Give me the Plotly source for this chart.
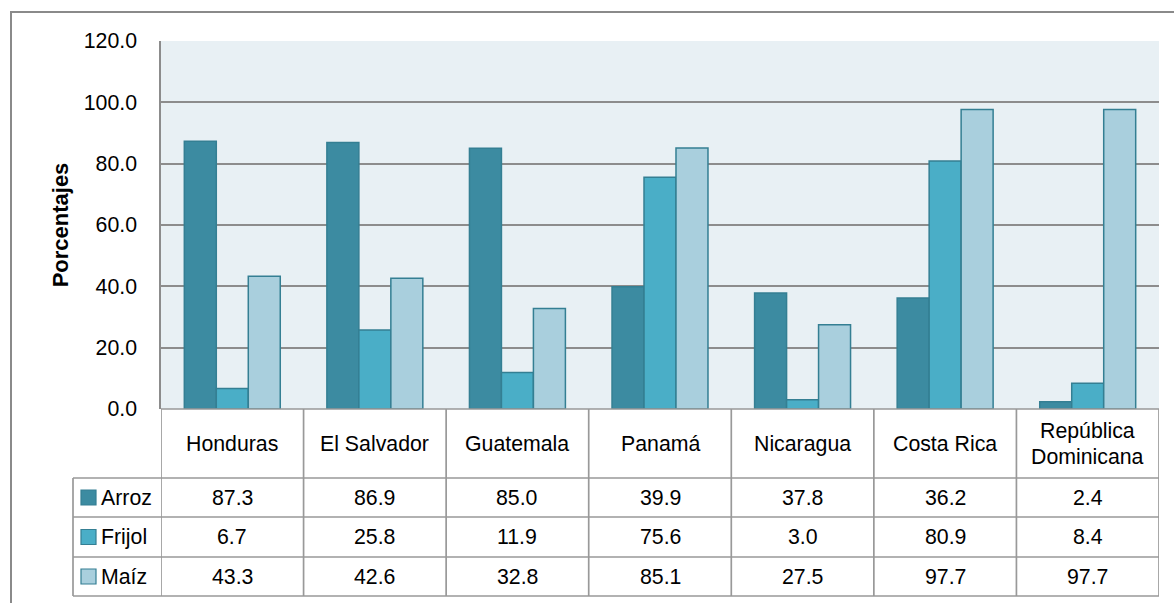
import plotly.graph_objects as go

# ---------------- data ----------------
categories = ["Honduras", "El Salvador", "Guatemala", "Panamá", "Nicaragua",
              "Costa Rica", "República Dominicana"]
header_labels = ["Honduras", "El Salvador", "Guatemala", "Panamá", "Nicaragua",
                 "Costa Rica", "República<br>Dominicana"]
series_names = ["Arroz", "Frijol", "Maíz"]
arroz = [87.3, 86.9, 85.0, 39.9, 37.8, 36.2, 2.4]
frijol = [6.7, 25.8, 11.9, 75.6, 3.0, 80.9, 8.4]
maiz = [43.3, 42.6, 32.8, 85.1, 27.5, 97.7, 97.7]
y_ticks = [0, 20, 40, 60, 80, 100, 120]
y_title = "Porcentajes"

# ---------------- style ----------------
colors = ["#3c8ba1", "#4aaec7", "#a9cfdd"]
edge = "#347f93"
grid = "#8c8c8c"
tline = "#999999"
FONT = "Liberation Sans, Arial, sans-serif"
FS = 21.3

W, H = 1174, 603
L, R, T, B = 161, 15, 41, 194
PW, PH = W - L - R, H - T - B


def xp(p):
    return (p - L) / PW


def yp(p):
    return (H - B - p) / PH


header_bottom = 478
row_edges = [478, 517, 557, 596]
legend_left = 73

series = [arroz, frijol, maiz]

fig = go.Figure()
for name, vals, col in zip(series_names, series, colors):
    fig.add_trace(go.Bar(
        x=categories, y=vals, name=name,
        marker=dict(color=col, line=dict(color=edge, width=1.5)),
        showlegend=False,
    ))

shapes = []
annotations = []

# outer frame
shapes.append(dict(type="rect", xref="paper", yref="paper",
                   x0=xp(11), x1=xp(1190), y0=yp(640), y1=yp(12),
                   line=dict(color="#8a8a8a", width=2), layer="below"))

# table grid: vertical lines at category boundaries
for i in range(len(categories) + 1):
    shapes.append(dict(type="line", xref="x", yref="paper",
                       x0=i - 0.5, x1=i - 0.5, y0=yp(409), y1=yp(row_edges[-1]),
                       line=dict(color=tline, width=1.7)))
shapes.append(dict(type="line", xref="paper", yref="paper",
                   x0=xp(legend_left), x1=xp(legend_left),
                   y0=yp(row_edges[0]), y1=yp(row_edges[-1]),
                   line=dict(color=tline, width=1.7)))
shapes.append(dict(type="line", xref="paper", yref="paper",
                   x0=0, x1=1, y0=0, y1=0, line=dict(color=tline, width=1.7)))
for r in row_edges:
    shapes.append(dict(type="line", xref="paper", yref="paper",
                       x0=xp(legend_left), x1=1, y0=yp(r), y1=yp(r),
                       line=dict(color=tline, width=1.7)))

# header labels
hdr_mid = (409 + header_bottom) / 2
for cat, lab in zip(categories, header_labels):
    lines = lab.split("<br>")
    n = len(lines)
    for k, ln in enumerate(lines):
        cy = hdr_mid + (k - (n - 1) / 2) * 26
        annotations.append(dict(x=cat, xref="x", y=yp(cy), yref="paper",
                                text=ln, showarrow=False,
                                font=dict(family=FONT, size=FS, color="#000"),
                                xanchor="center", yanchor="middle"))

# data rows with legend keys
for r, (name, vals, col) in enumerate(zip(series_names, series, colors)):
    cy = (row_edges[r] + row_edges[r + 1]) / 2
    for cat, v in zip(categories, vals):
        annotations.append(dict(x=cat, xref="x", y=yp(cy), yref="paper",
                                text=f"{v:.1f}", showarrow=False,
                                font=dict(family=FONT, size=FS, color="#000"),
                                xanchor="center", yanchor="middle"))
    shapes.append(dict(type="rect", xref="paper", yref="paper",
                       x0=xp(81), x1=xp(96), y0=yp(cy + 7.5), y1=yp(cy - 7.5),
                       fillcolor=col, line=dict(color=edge, width=1.2)))
    annotations.append(dict(x=xp(99), xref="paper", y=yp(cy), yref="paper",
                            text=name, showarrow=False,
                            font=dict(family=FONT, size=FS, color="#000"),
                            xanchor="left", yanchor="middle"))

fig.update_layout(
    width=W, height=H,
    margin=dict(l=L, r=R, t=T, b=B),
    paper_bgcolor="white",
    plot_bgcolor="#e8f0f4",
    barmode="group", bargap=0.327, bargroupgap=0,
    font=dict(family=FONT, size=FS, color="#000"),
    shapes=shapes, annotations=annotations,
    xaxis=dict(showticklabels=False, showgrid=False, zeroline=False,
               showline=False, ticks="", range=[-0.5, len(categories) - 0.5]),
    yaxis=dict(range=[0, 120], tickvals=y_ticks,
               ticktext=[f"{v:.1f}" for v in y_ticks],
               showgrid=True, gridcolor=grid, gridwidth=1.5,
               zeroline=False, showline=True, linecolor=grid, linewidth=1.5,
               ticks="", ticklabelstandoff=18,
               tickfont=dict(family=FONT, size=FS, color="#000"),
               title=dict(text=f"<b>{y_title}</b>", standoff=9,
                          font=dict(family=FONT, size=22, color="#000"))),
)

fig.write_html("out.html", post_script="document.body.style.margin='0px';",
               config={"displayModeBar": False})
